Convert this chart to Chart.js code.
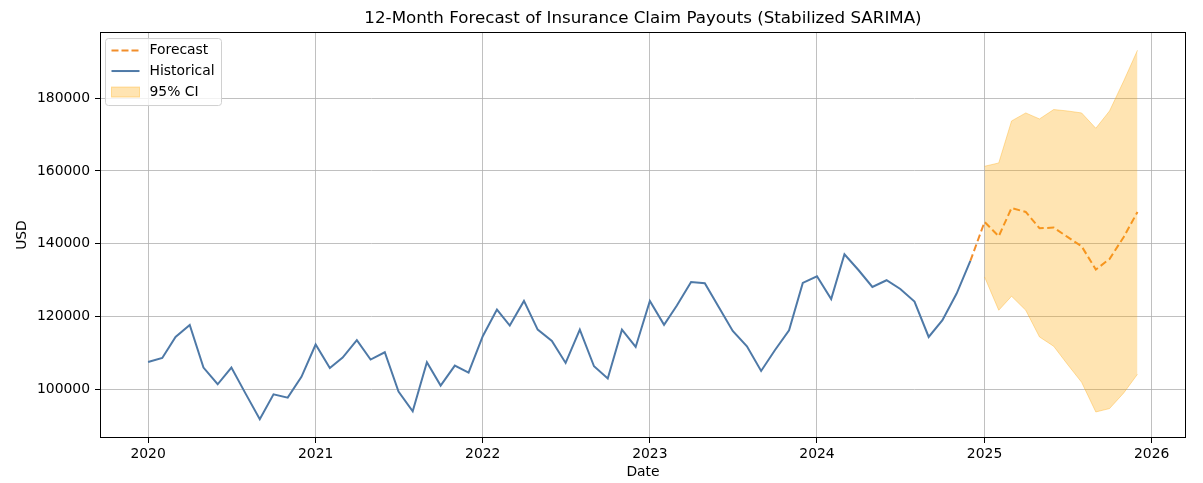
<!DOCTYPE html>
<html>
<head>
<meta charset="utf-8">
<script src="https://cdn.jsdelivr.net/npm/chart.js@4.4.0/dist/chart.umd.min.js"></script>
<style>
  html, body { margin: 0; padding: 0; background: #fff; }
  #wrap { width: 1203px; height: 483px; position: relative; }
</style>
</head>
<body>
<div id="wrap"><canvas id="chart"></canvas></div>
<script>
// monthly data, first of each month
const histStart = "2020-01";
const histValues = [
  107500, 108600, 114400, 117700, 105960, 101370, 105960, 98800, 91750, 98600, 97700, 103400,
  112300, 105860, 108700, 113500, 108160, 110170, 99360, 93950, 107420, 101000, 106500, 104590,
  114570, 121900, 117500, 124280, 116400, 113300, 107230, 116400, 106320, 102940, 116400, 111630,
  124280, 117700, 123000, 129500, 129140, 122460, 116030, 111820, 105030, 110720, 116220, 129220,
  131060, 124820, 137110, 132710, 128120, 129970, 127580, 124100, 114380, 118970, 126300, 135270
];
const fcStart = "2025-01";
const forecastValues = [145990, 142060, 149840, 148740, 144260, 144450, 141870, 139310, 132900, 135820, 141870, 148740];
const ciUpper = [161300, 162210, 173760, 175960, 174310, 176890, 176510, 175960, 171750, 176510, 184760, 193190];
const ciLower = [130870, 121720, 125570, 121720, 114380, 111820, 106870, 101920, 93760, 94690, 98980, 104120];
const yTicks = [100000, 120000, 140000, 160000, 180000];
const xTickYears = [2020, 2021, 2022, 2023, 2024, 2025, 2026];

const FONT = "'DejaVu Sans', sans-serif";
const ORANGE = "#f28e2b";
const BLUE = "#4e79a7";
const CI_FILL = "rgba(255,165,0,0.3)";

function monthX(start, i) {
  const [y, m] = start.split("-").map(Number);
  return Date.UTC(y, m - 1 + i, 1);
}

const histPts = histValues.map((v, i) => ({ x: monthX(histStart, i), y: v }));
// forecast line is joined to the last observed month
const fcPts = [histPts[histPts.length - 1]].concat(
  forecastValues.map((v, i) => ({ x: monthX(fcStart, i), y: v })));
const upPts = ciUpper.map((v, i) => ({ x: monthX(fcStart, i), y: v }));
const loPts = ciLower.map((v, i) => ({ x: monthX(fcStart, i), y: v }));

Chart.defaults.color = "#000";
Chart.defaults.font.family = FONT;

const frameAndLegend = {
  id: "frameAndLegend",
  afterDraw(chart) {
    const ctx = chart.ctx;
    const a = chart.chartArea;
    ctx.save();
    ctx.strokeStyle = "#000";
    ctx.lineWidth = 1;
    ctx.strokeRect(Math.round(a.left) + 0.5, Math.round(a.top) + 0.5,
      Math.round(a.right - a.left) - 1, Math.round(a.bottom - a.top) - 1);

    // legend box, upper left
    const lx = a.left + 5.5, ly = a.top + 6.5, lw = 116, lh = 67;
    ctx.beginPath();
    ctx.roundRect(lx, ly, lw, lh, 3);
    ctx.fillStyle = "rgba(255,255,255,0.8)";
    ctx.fill();
    ctx.strokeStyle = "#d0d0d0";
    ctx.stroke();

    const sx0 = lx + 6, sx1 = lx + 34, tx = lx + 44;
    const rows = [ly + 12, ly + 32.5, ly + 53.5];
    ctx.lineWidth = 2;
    ctx.strokeStyle = ORANGE;
    ctx.setLineDash([7, 3]);
    ctx.beginPath(); ctx.moveTo(sx0, rows[0]); ctx.lineTo(sx1, rows[0]); ctx.stroke();
    ctx.setLineDash([]);
    ctx.strokeStyle = BLUE;
    ctx.beginPath(); ctx.moveTo(sx0, rows[1]); ctx.lineTo(sx1, rows[1]); ctx.stroke();
    ctx.fillStyle = CI_FILL;
    ctx.fillRect(sx0, rows[2] - 5, sx1 - sx0, 10);
    ctx.strokeStyle = "rgba(255,165,0,0.35)";
    ctx.lineWidth = 1;
    ctx.strokeRect(sx0, rows[2] - 5, sx1 - sx0, 10);

    ctx.fillStyle = "#000";
    ctx.font = "13.9px " + FONT;
    ctx.textBaseline = "middle";
    ctx.textAlign = "left";
    ["Forecast", "Historical", "95% CI"].forEach((t, i) => ctx.fillText(t, tx, rows[i]));
    ctx.restore();
  }
};

new Chart(document.getElementById("chart"), {
  type: "line",
  data: {
    datasets: [
      {
        label: "95% CI",
        data: upPts,
        borderColor: "rgba(255,165,0,0.35)",
        borderWidth: 1,
        backgroundColor: CI_FILL,
        fill: "+1",
        pointRadius: 0,
        tension: 0,
        order: 0
      },
      {
        label: "CI lower",
        data: loPts,
        borderColor: "rgba(255,165,0,0.35)",
        borderWidth: 1,
        pointRadius: 0,
        fill: false,
        tension: 0,
        order: 1
      },
      {
        label: "Forecast",
        data: fcPts,
        borderColor: ORANGE,
        borderWidth: 2,
        borderDash: [7, 3.5],
        pointRadius: 0,
        fill: false,
        tension: 0,
        order: 2
      },
      {
        label: "Historical",
        data: histPts,
        borderColor: BLUE,
        borderWidth: 2,
        pointRadius: 0,
        fill: false,
        tension: 0,
        order: 3
      }
    ]
  },
  options: {
    responsive: true,
    maintainAspectRatio: false,
    animation: false,
    events: [],
    layout: { padding: { left: 0, right: 17, top: 0, bottom: 0 } },
    plugins: {
      legend: { display: false },
      tooltip: { enabled: false },
      title: {
        display: true,
        fullSize: false,
        text: "12-Month Forecast of Insurance Claim Payouts (Stabilized SARIMA)",
        color: "#000",
        font: { size: 16.7, weight: "normal", family: FONT },
        padding: { top: 9, bottom: 3 }
      }
    },
    scales: {
      x: {
        type: "linear",
        min: Date.UTC(2019, 8, 18),
        max: Date.UTC(2026, 2, 17),
        afterBuildTicks: s => { s.ticks = xTickYears.map(y => ({ value: Date.UTC(y, 0, 1) })); },
        afterFit: s => { s.height = 45; },
        ticks: {
          font: { size: 13.9, family: FONT },
          color: "#000",
          padding: 3,
          maxRotation: 0,
          callback: v => String(new Date(v).getUTCFullYear())
        },
        grid: { color: "#b0b0b0", lineWidth: 0.8, tickColor: "#000", tickLength: 5, tickWidth: 1 },
        border: { display: false },
        title: {
          display: true,
          text: "Date",
          color: "#000",
          font: { size: 13.9, family: FONT },
          padding: { top: 0, bottom: 2 }
        }
      },
      y: {
        type: "linear",
        min: 86600,
        max: 198200,
        afterBuildTicks: s => { s.ticks = yTicks.map(v => ({ value: v })); },
        afterFit: s => { s.width = 100; },
        ticks: {
          font: { size: 13.9, family: FONT },
          color: "#000",
          padding: 5,
          callback: v => String(v)
        },
        grid: { color: "#b0b0b0", lineWidth: 0.8, tickColor: "#000", tickLength: 5, tickWidth: 1 },
        border: { display: false },
        title: {
          display: true,
          text: "USD",
          color: "#000",
          font: { size: 13.9, family: FONT },
          padding: { top: 14, bottom: 0 }
        }
      }
    }
  },
  plugins: [frameAndLegend]
});
</script>
</body>
</html>
